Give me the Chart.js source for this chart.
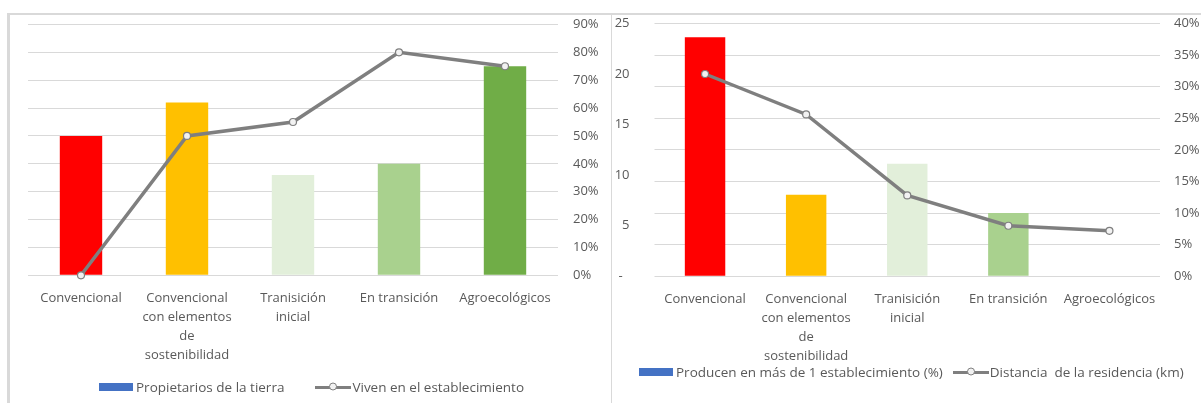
<!DOCTYPE html>
<html>
<head>
<meta charset="utf-8">
<script src="https://cdn.jsdelivr.net/npm/chart.js@4.4.0/dist/chart.umd.min.js"></script>
<style>
  body { margin: 0; width: 1201px; height: 403px; background: #fff; position: relative; overflow: hidden; font-family: "Open Sans", sans-serif; }
  .frame-top { position: absolute; left: 7px; top: 13px; width: 1194px; height: 2px; background: #d9d9d9; }
  .frame-left { position: absolute; left: 7px; top: 13px; width: 3px; height: 390px; background: #d9d9d9; }
  .divider { position: absolute; left: 611px; top: 13px; width: 1px; height: 390px; background: #d9d9d9; }
  .box { position: absolute; }
  .legend { position: absolute; display: flex; align-items: center; font-size: 13.5px; color: #595959; white-space: nowrap; }
  .swatch { width: 34px; height: 8px; background: #4472C4; margin-right: 3px; }
  .lineKey { position: relative; width: 36px; height: 3px; background: #7f7f7f; margin-left: 31px; margin-right: 1px; }
  .lineKey::after { content: ""; position: absolute; left: 14px; top: -3px; width: 6px; height: 6px; border-radius: 50%; background: #f2f2f2; border: 1px solid #7f7f7f; box-sizing: content-box; transform: translate(0, -0.5px); }
</style>
</head>
<body>
<div class="frame-top"></div>
<div class="frame-left"></div>
<div class="divider"></div>

<div class="box" style="left:10px; top:0px; width:601px; height:403px;"><canvas id="tenencia"></canvas></div>
<div class="box" style="left:612px; top:-3px; width:589px; height:406px;"><canvas id="residencia"></canvas></div>

<div class="legend" style="left:99px; top:378px;">
  <span class="swatch"></span><span>Propietarios de la tierra</span>
  <span class="lineKey"></span><span>Viven en el establecimiento</span>
</div>
<div class="legend" style="left:639px; top:363px;">
  <span class="swatch"></span><span>Producen en más de 1 establecimiento (%)</span>
  <span class="lineKey" style="margin-left:10px"></span><span>Distancia&nbsp; de la residencia (km)</span>
</div>

<script>
const categories = [
  'Convencional',
  ['Convencional', 'con elementos', 'de', 'sostenibilidad'],
  ['Tranisición', 'inicial'],
  'En transición',
  'Agroecológicos'
];
const barColors = ['#FF0000', '#FFC000', '#E2EFDA', '#A9D18E', '#70AD47'];

// left chart (%)
const propietarios = [50, 62, 36, 40, 75];
const vivenEnEstablecimiento = [0, 50, 55, 80, 75];
const pctTicksLeft = { min: 0, max: 90, step: 10 };

// right chart
const masDeUnEstablecimiento = [37.8, 12.9, 17.8, 10, 0];
const distanciaResidencia = [20, 16, 8, 5, 4.5];
const kmTicks = { min: 0, max: 25, step: 5 };
const pctTicksRight = { min: 0, max: 40, step: 5 };

const textColor = '#595959';
const gridColor = '#d9d9d9';
const lineColor = '#7f7f7f';
const tickFont = { family: '"Open Sans", sans-serif', size: 13, lineHeight: 1.45 };

Chart.defaults.animation = false;
Chart.defaults.color = textColor;

function lineDataset(values, axis) {
  return {
    type: 'line',
    data: values,
    yAxisID: axis,
    borderColor: lineColor,
    borderWidth: 3.5,
    pointRadius: 3.5,
    pointBorderWidth: 1.2,
    pointBackgroundColor: '#f2f2f2',
    pointBorderColor: lineColor,
    tension: 0,
    clip: false,
    order: 0
  };
}

function barDataset(values, axis) {
  return {
    type: 'bar',
    data: values,
    yAxisID: axis,
    backgroundColor: barColors,
    categoryPercentage: 0.8,
    barPercentage: 0.5,
    order: 1
  };
}

function xAxis(height) {
  return {
    grid: { display: false },
    border: { display: false },
    ticks: { font: tickFont, color: textColor, maxRotation: 0, autoSkip: false, padding: 6 },
    afterFit: s => { s.height = height; }
  };
}

const pctLabel = v => v + '%';

new Chart(document.getElementById('tenencia'), {
  data: {
    labels: categories,
    datasets: [
      barDataset(propietarios, 'y'),
      lineDataset(vivenEnEstablecimiento, 'y')
    ]
  },
  options: {
    responsive: true,
    maintainAspectRatio: false,
    layout: { padding: { left: 18, top: 0, right: 0, bottom: 0 } },
    plugins: { legend: { display: false }, tooltip: { enabled: false } },
    scales: {
      x: xAxis(127.7),
      y: {
        position: 'right',
        min: pctTicksLeft.min,
        max: pctTicksLeft.max,
        grid: { color: gridColor, drawTicks: false },
        border: { display: false },
        ticks: { stepSize: pctTicksLeft.step, font: tickFont, color: textColor, padding: 15, callback: pctLabel },
        afterFit: s => { s.width = 53; }
      }
    }
  }
});

new Chart(document.getElementById('residencia'), {
  data: {
    labels: categories,
    datasets: [
      barDataset(masDeUnEstablecimiento, 'yPct'),
      lineDataset(distanciaResidencia, 'yKm')
    ]
  },
  options: {
    responsive: true,
    maintainAspectRatio: false,
    layout: { padding: { left: 0, top: 0, right: 0, bottom: 0 } },
    plugins: { legend: { display: false }, tooltip: { enabled: false } },
    scales: {
      x: xAxis(126.7),
      yKm: {
        position: 'left',
        min: kmTicks.min,
        max: kmTicks.max,
        grid: { display: false },
        border: { display: false },
        ticks: {
          stepSize: kmTicks.step, font: tickFont, color: textColor, padding: 17,
          callback: v => v === 0 ? '-  ' : v
        },
        afterFit: s => { s.width = 42.5; }
      },
      yPct: {
        position: 'right',
        min: pctTicksRight.min,
        max: pctTicksRight.max,
        grid: { color: gridColor, drawTicks: false },
        border: { display: false },
        ticks: { stepSize: pctTicksRight.step, font: tickFont, color: textColor, padding: 14, callback: pctLabel },
        afterFit: s => { s.width = 41; }
      }
    }
  }
});
</script>
</body>
</html>
